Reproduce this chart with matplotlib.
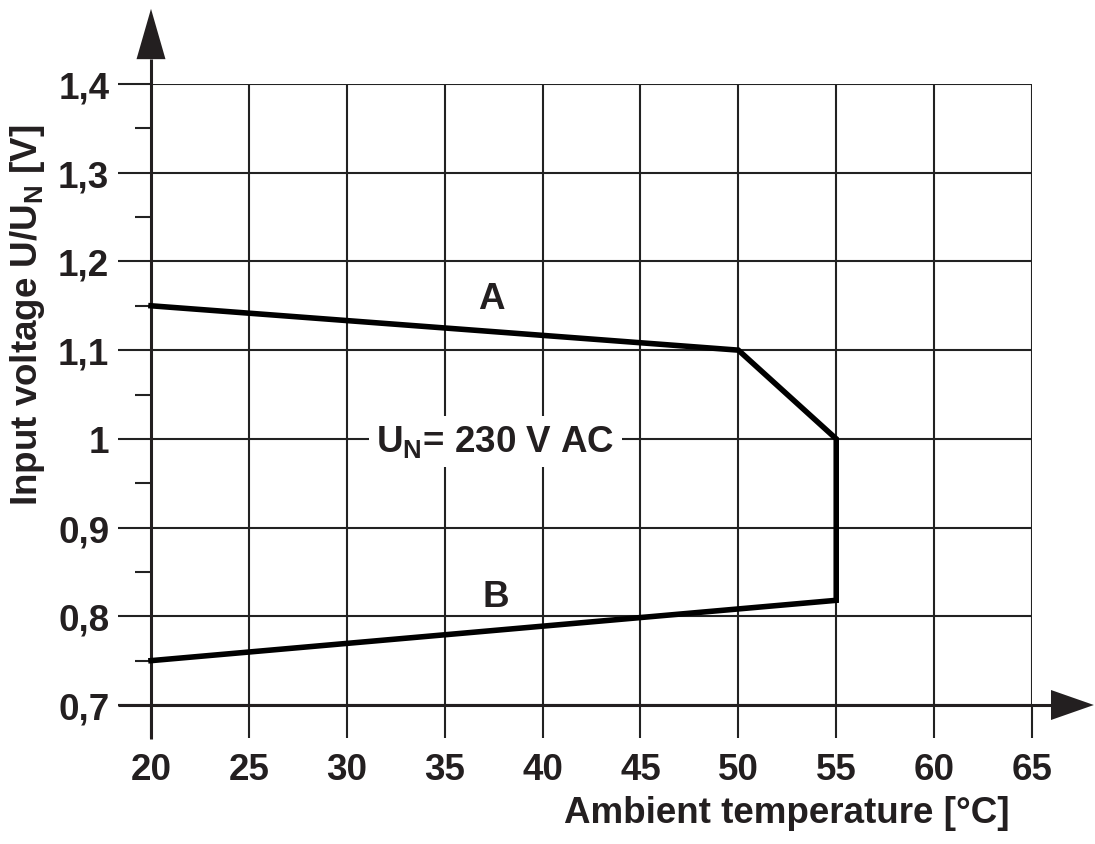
import matplotlib
matplotlib.use("Agg")
import matplotlib.pyplot as plt
import numpy as np

plt.rcParams['font.family'] = ['Liberation Sans', 'DejaVu Sans']
plt.rcParams['font.weight'] = 'bold'
plt.rcParams['mathtext.fontset'] = 'custom'
plt.rcParams['mathtext.bf'] = 'Liberation Sans:bold'
plt.rcParams['mathtext.rm'] = 'Liberation Sans:bold'

# Data
curve_temp = [20, 50, 55, 55, 20]
curve_volt = [1.15, 1.10, 1.00, 0.818, 0.75]
x_ticks = [20, 25, 30, 35, 40, 45, 50, 55, 60, 65]
y_ticks = [0.7, 0.8, 0.9, 1.0, 1.1, 1.2, 1.3, 1.4]
y_tick_labels = ["0,7", "0,8", "0,9", "1", "1,1", "1,2", "1,3", "1,4"]
y_minor = [0.75, 0.85, 0.95, 1.05, 1.15, 1.25, 1.35]

W, H = 1095, 845
fig = plt.figure(figsize=(W / 100, H / 100), dpi=100)
x0, x1 = 151, 1032
y0, y1 = 706, 85
ax = fig.add_axes([x0 / W, 1 - y0 / H, (x1 - x0) / W, (y0 - y1) / H])
ax.set_xlim(20, 65)
ax.set_ylim(0.7, 1.4)
for s in ax.spines.values():
    s.set_visible(False)

px_x = 5 / 98.0       # data per px in x
px_y = 0.1 / 88.7     # data per px in y
FS = 26.5

ax.set_xticks(x_ticks)
ax.set_xticklabels([str(t) for t in x_ticks])
ax.set_yticks(y_ticks)
ax.set_yticklabels(y_tick_labels)
ax.set_yticks(y_minor, minor=True)
ax.tick_params(axis='both', which='major', direction='out', length=24, width=1.5,
               color='#222222', labelsize=FS)
ax.tick_params(axis='x', which='major', pad=10)
ax.tick_params(axis='y', which='major', pad=6)
ax.tick_params(axis='y', which='minor', direction='out', length=11.5, width=1.5,
               color='#222222')
for lab in ax.get_xticklabels() + ax.get_yticklabels():
    lab.set_fontweight('bold')
    lab.set_color('#231f20')

ax.grid(True, which='major', color='#222222', linewidth=1.5)
ax.set_axisbelow(True)

# axis lines with arrows
ax.plot([20 - 33 * px_x, 65.97], [0.7, 0.7], color='#231f20', lw=2.2,
        clip_on=False, solid_capstyle='butt')
ax.plot([20, 20], [0.7 - 34 * px_y, 1.428], color='#231f20', lw=2.2,
        clip_on=False, solid_capstyle='butt')
ax.fill([65.97, 68.16, 65.97], [0.7 - 15 * px_y, 0.7, 0.7 + 15 * px_y],
        color='#231f20', clip_on=False, lw=0)
ax.fill([20 - 14.5 * px_x, 20, 20 + 14.5 * px_x], [1.428, 1.4847, 1.428],
        color='#231f20', clip_on=False, lw=0)

# curve
ax.plot(curve_temp, curve_volt, color='black', lw=4.0, solid_joinstyle='miter',
        clip_on=False, zorder=5)

ax.text(37.4, 1.158, "A", fontsize=FS, fontweight='bold', ha='center', va='center',
        color='#231f20')
ax.text(37.6, 0.822, "B", fontsize=FS, fontweight='bold', ha='center', va='center',
        color='#231f20')
ax.text(37.6, 0.997, r"U$_\mathbf{N}$= 230 V AC", fontsize=FS, fontweight='bold',
        ha='center', va='center', color='#231f20', zorder=6,
        bbox=dict(facecolor='white', edgecolor='none', pad=5))

fig.text(787 / W, 1 - 814 / H, "Ambient temperature [°C]", fontsize=FS,
         fontweight='bold', ha='center', va='center', color='#231f20')
fig.text(28 / W, 1 - 315 / H, r"Input voltage U/U$_\mathbf{N}$ [V]", fontsize=FS,
         fontweight='bold', ha='center', va='center', rotation=90, color='#231f20')

fig.savefig("out.png", dpi=100)
